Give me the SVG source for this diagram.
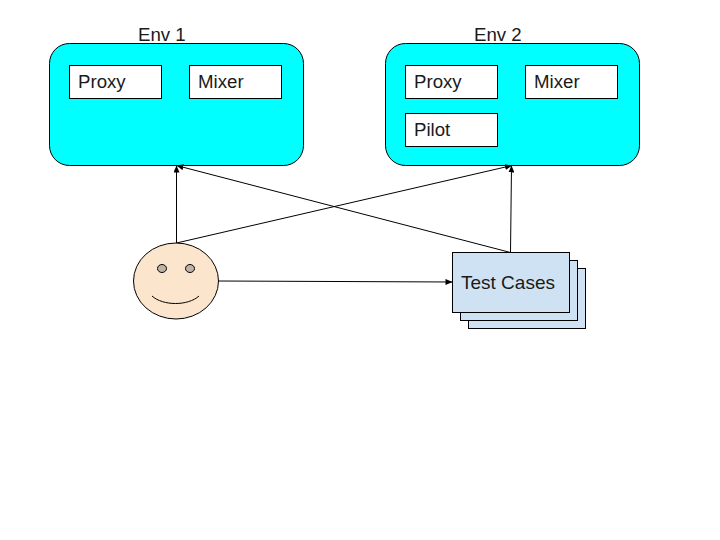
<svg xmlns="http://www.w3.org/2000/svg" width="720" height="540" viewBox="0 0 720 540">
<style>
text{font-family:"Liberation Sans",Arial,sans-serif;font-size:18.67px;fill:#1a1a1a}
.env{fill:#00ffff;stroke:#000;stroke-width:1}
.box{fill:#fff;stroke:#000;stroke-width:1}
.card{fill:#cfe2f3;stroke:#000;stroke-width:1}
.conn{fill:none;stroke:#000;stroke-width:1;marker-end:url(#a)}
.face{stroke:#000;stroke-width:1}
</style>
<defs>
<marker id="a" markerUnits="userSpaceOnUse" markerWidth="8" markerHeight="6" refX="7" refY="3" orient="auto"><path d="M0 0L7 3L0 6Z" fill="#000"/></marker>
</defs>
<rect width="720" height="540" fill="#fff"/>
<g id="env1">
<text x="138" y="40.500">Env 1</text>
<rect class="env" x="49.500" y="43.500" width="254" height="122" rx="20" ry="20"/>
</g>
<g id="env1-proxy"><rect class="box" x="69.500" y="65.500" width="92" height="33"/><text x="78" y="88">Proxy</text></g>
<g id="env1-mixer"><rect class="box" x="189.500" y="65.500" width="92" height="33"/><text x="198" y="88">Mixer</text></g>
<g id="env2">
<text x="474" y="40.500">Env 2</text>
<rect class="env" x="385.500" y="43.500" width="254" height="122" rx="20" ry="20"/>
</g>
<g id="env2-proxy"><rect class="box" x="405.500" y="65.500" width="92" height="33"/><text x="414" y="88">Proxy</text></g>
<g id="env2-mixer"><rect class="box" x="525.500" y="65.500" width="92" height="33"/><text x="534" y="88">Mixer</text></g>
<g id="env2-pilot"><rect class="box" x="405.500" y="113.500" width="92" height="33"/><text x="414" y="136">Pilot</text></g>
<g id="connectors">
<path class="conn" d="M176.500 243L176.500 165.500"/>
<path class="conn" d="M176.500 243L512 165.500"/>
<path class="conn" d="M510.500 252.500L176.500 165.500"/>
<path class="conn" d="M510.500 252.500L511.500 165.500"/>
<path class="conn" d="M218.500 281L452.500 282"/>
</g>
<g id="person">
<ellipse class="face" cx="176" cy="281" rx="42.500" ry="38" fill="#fce5cd"/>
<ellipse class="face" cx="162" cy="268.500" rx="4.500" ry="4" fill="#bfb3a6"/>
<ellipse class="face" cx="190" cy="268.500" rx="4.500" ry="4" fill="#bfb3a6"/>
<path d="M152 296C163 306 188 306 199 296" fill="none" stroke="#000"/>
</g>
<g id="test-cases">
<rect class="card" x="468.500" y="268.500" width="117" height="60"/>
<rect class="card" x="460.500" y="260.500" width="117" height="60"/>
<rect class="card" x="452.500" y="252.500" width="117" height="60"/>
<text x="461" y="289" style="font-size:19px">Test Cases</text>
</g>
</svg>
